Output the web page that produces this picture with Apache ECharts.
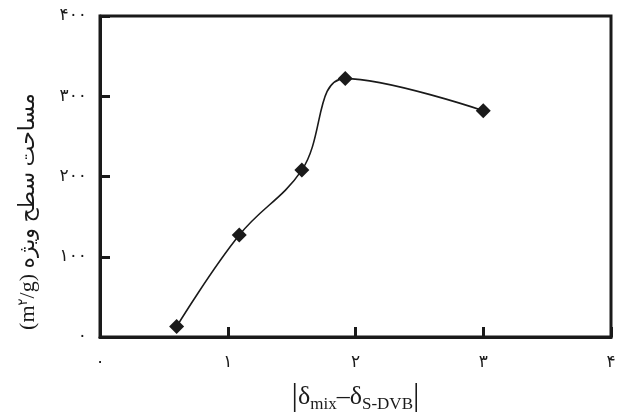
<!DOCTYPE html>
<html>
<head>
<meta charset="utf-8">
<script src="https://cdn.jsdelivr.net/npm/echarts@6/dist/echarts.min.js"></script>
<style>html,body{margin:0;padding:0;background:#fff}#c{width:620px;height:415px}</style>
</head>
<body>
<div id="c"></div>
<script>
const xValues = [0.60, 1.09, 1.58, 1.92, 3.00];
const yValues = [13, 127, 208, 322, 282];
const xTickLabels = ['۰', '۱', '۲', '۳', '۴'];
const yTickLabels = ['۰', '۱۰۰', '۲۰۰', '۳۰۰', '۴۰۰'];
const FONT = '"Liberation Serif", "DejaVu Serif", "DejaVu Sans", serif';
const INK = '#1a1a1a';

const chart = echarts.init(document.getElementById('c'), null, {renderer: 'canvas'});
chart.setOption({
  animation: false,
  backgroundColor: '#fff',
  grid: {left: 100, right: 9, top: 16, bottom: 78, show: true, borderColor: INK, borderWidth: 3,
         containLabel: false, outerBoundsMode: 'none'},
  xAxis: {
    type: 'value', min: 0, max: 4, interval: 1,
    axisLine: {show: true, lineStyle: {color: INK, width: 3}},
    axisTick: {show: true, inside: true, length: 10, lineStyle: {color: INK, width: 3}},
    splitLine: {show: false},
    axisLabel: {
      margin: 17, fontSize: 17, color: INK, fontFamily: FONT,
      formatter: v => xTickLabels[Math.round(v)]
    },
    name: '{b||}{d|δ}{s|mix}{d|–δ}{s|S-DVB}{b||}',
    nameLocation: 'middle', nameGap: 40,
    nameTextStyle: {
      fontFamily: FONT, color: INK,
      rich: {
        b: {fontSize: 32, fontFamily: FONT, color: INK, lineHeight: 40, verticalAlign: 'middle'},
        d: {fontSize: 26, fontFamily: FONT, color: INK, lineHeight: 40, verticalAlign: 'middle'},
        s: {fontSize: 17, fontFamily: FONT, color: INK, lineHeight: 40, verticalAlign: 'bottom', padding: [0, 0, 4, 0]}
      }
    }
  },
  yAxis: {
    type: 'value', min: 0, max: 400, interval: 100,
    axisLine: {show: true, lineStyle: {color: INK, width: 3}},
    axisTick: {show: true, inside: true, length: 10, lineStyle: {color: INK, width: 3}},
    splitLine: {show: false},
    axisLabel: {
      margin: 13, fontSize: 17, color: INK, fontFamily: FONT,
      formatter: v => yTickLabels[Math.round(v / 100)]
    },
    name: '(m{sup|۲}/g) مساحت سطح ویژه',
    nameLocation: 'middle', nameGap: 60, nameRotate: 90,
    nameTextStyle: {
      fontSize: 22, fontFamily: FONT, color: INK, padding: [0, 70, 0, 0],
      rich: {
        sup: {fontSize: 13, fontFamily: FONT, color: INK, verticalAlign: 'top', padding: [0, 0, 10, 0]}
      }
    }
  },
  series: [{
    type: 'line',
    data: xValues.map((x, i) => [x, yValues[i]]),
    smooth: 0.4,
    symbol: 'diamond', symbolSize: 15,
    itemStyle: {color: INK},
    lineStyle: {color: INK, width: 1.6}
  }]
});
</script>
</body>
</html>
